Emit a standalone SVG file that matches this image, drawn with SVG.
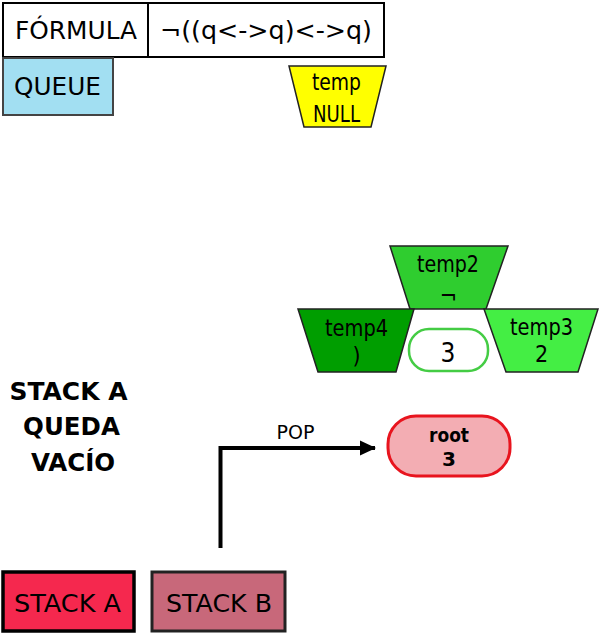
<svg xmlns="http://www.w3.org/2000/svg" width="601" height="633" viewBox="0 0 601 633">
<style>
text{font-family:"DejaVu Sans",Verdana,sans-serif;fill:#000;text-anchor:middle}
.big{font-size:24px}
.mid{font-family:"DejaVu Sans Condensed","DejaVu Sans",sans-serif;font-size:23px}
.b{font-weight:bold}
.trap{stroke:#222;stroke-width:1.5}
.note{font-weight:bold;font-size:24.5px}
</style>
<defs>
<marker id="arr" markerWidth="16" markerHeight="16" refX="15" refY="8" orient="auto" markerUnits="userSpaceOnUse" viewBox="0 0 16 16"><path d="M0,0.5 L16,8 L0,15.5 z" fill="#000"/></marker>
</defs>
<rect width="601" height="633" fill="#fff"/>
<g id="formula-label"><rect x="3" y="3" width="145" height="54" fill="#fff" stroke="#000" stroke-width="2"/><text class="big" x="76" y="38.5" textLength="122" lengthAdjust="spacingAndGlyphs">FÓRMULA</text></g>
<g id="formula-value"><rect x="148" y="3" width="236" height="54" fill="#fff" stroke="#000" stroke-width="2"/><text class="big" x="266" y="38.5" textLength="212" lengthAdjust="spacingAndGlyphs">¬((q&lt;-&gt;q)&lt;-&gt;q)</text></g>
<g id="queue"><rect x="3" y="58" width="110" height="57" fill="#a2dff2" stroke="#444" stroke-width="2"/><text class="big" x="57.5" y="95" textLength="87" lengthAdjust="spacingAndGlyphs">QUEUE</text></g>
<g id="temp"><polygon class="trap" points="289,66 386,66 371,127 304,127" fill="#ffff00"/><text class="mid" x="336.5" y="90" textLength="49" lengthAdjust="spacingAndGlyphs">temp</text><text class="mid" x="336.5" y="121.5" textLength="47" lengthAdjust="spacingAndGlyphs">NULL</text></g>
<g id="temp2"><polygon class="trap" points="390,246 508,246 486,309 410,309" fill="#2fcd2f"/><text class="mid" x="448" y="272" textLength="62" lengthAdjust="spacingAndGlyphs">temp2</text><text class="mid" x="448.5" y="304">¬</text></g>
<g id="temp4"><polygon class="trap" points="298,309 414,309 396,372 318,372" fill="#009e00"/><text class="mid" x="356.5" y="336" textLength="63" lengthAdjust="spacingAndGlyphs">temp4</text><text class="mid" x="356.5" y="364">)</text></g>
<g id="temp3"><polygon class="trap" points="484,309 598,309 578,372 506,372" fill="#44ee44"/><text class="mid" x="541.5" y="335" textLength="63" lengthAdjust="spacingAndGlyphs">temp3</text><text class="mid" x="541.5" y="361.5">2</text></g>
<g id="val3"><rect x="409" y="329" width="79" height="42" rx="20" fill="#fff" stroke="#44cc44" stroke-width="2.5"/><text class="mid" style="font-size:26px" x="448" y="361.5">3</text></g>
<g id="root"><rect x="388" y="416" width="122" height="60" rx="28" fill="#f3adb3" stroke="#e8141e" stroke-width="3"/><text class="b" font-size="20" x="449" y="441.5" textLength="40" lengthAdjust="spacingAndGlyphs">root</text><text class="b" font-size="20" x="449" y="466">3</text></g>
<g id="note"><text class="note" x="68.5" y="400" textLength="118" lengthAdjust="spacingAndGlyphs">STACK A</text><text class="note" x="71.5" y="435">QUEDA</text><text class="note" x="73" y="471">VACÍO</text></g>
<g id="stackA"><rect x="3" y="572" width="131" height="59" fill="#f5284e" stroke="#000" stroke-width="3.5"/><text class="big" x="67.5" y="612" textLength="107" lengthAdjust="spacingAndGlyphs">STACK A</text></g>
<g id="stackB"><rect x="152" y="572" width="133" height="59" fill="#c8687a" stroke="#222" stroke-width="3"/><text class="big" x="219" y="612" textLength="106" lengthAdjust="spacingAndGlyphs">STACK B</text></g>
<g id="connectors">
<path d="M220.5,548 V448 H375" fill="none" stroke="#000" stroke-width="4" marker-end="url(#arr)"/>
<text font-size="19" x="295.5" y="439">POP</text>
</g>
</svg>
